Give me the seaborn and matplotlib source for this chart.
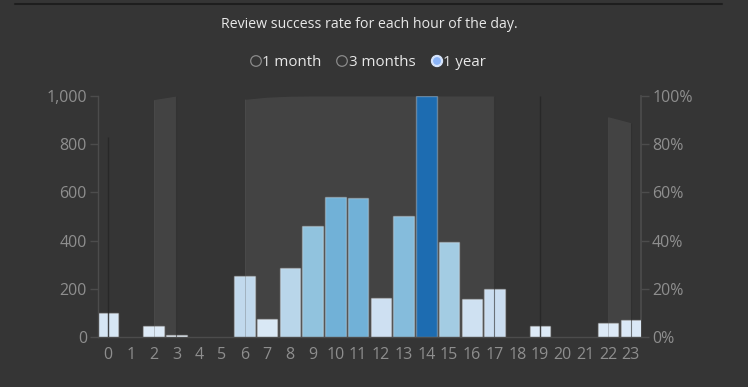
import numpy as np
import pandas as pd
import matplotlib
matplotlib.use("Agg")
import matplotlib.pyplot as plt
from matplotlib.colors import Normalize
from matplotlib.patches import Circle
import seaborn as sns

# ---- data ----
hours = list(range(24))
review_counts = [100, 0, 47, 8, 0, 0, 254, 76, 288, 461, 580, 577,
                 161, 502, 1000, 393, 158, 198, 0, 44, 0, 0, 58, 69]
# success rate per hour (None = no reviews)
success_rate = [0.83, None, 0.985, 1.0, None, None, 0.986, 0.995, 0.999, 1.0, 1.0, 1.0,
                1.0, 1.0, 1.0, 1.0, 1.0, 1.0, None, 1.0, None, None, 0.914, 0.889]
hour_labels = [str(h) for h in hours]
count_ticks = [0, 200, 400, 600, 800, 1000]
rate_ticks = [0, 0.2, 0.4, 0.6, 0.8, 1.0]
title = "Review success rate for each hour of the day."
ranges = ["1 month", "3 months", "1 year"]

BG = "#353535"
AXC = "#4c4c4c"
TXT = "#8e8e8e"

sns.set_theme(style="dark")
plt.rcParams["font.family"] = ["Open Sans", "DejaVu Sans"]

fig = plt.figure(figsize=(7.48, 3.87), dpi=100, facecolor=BG)
W, H = 748, 387
ax = fig.add_axes([98 / W, 50 / H, 543 / W, 241 / H])

norm = Normalize(vmin=-150, vmax=1350)
cmap = plt.get_cmap("Blues")
palette = {str(h): cmap(norm(v)) for h, v in zip(hours, review_counts)}

df = pd.DataFrame({"hour": hour_labels, "count": review_counts})
sns.barplot(data=df, x="hour", y="count", hue="hour", palette=palette,
            order=hour_labels, legend=False, width=0.9, ax=ax,
            edgecolor=(1, 1, 1, 0.28), linewidth=1.0, saturation=1)
# hours without reviews have no visible bar
for p in ax.patches:
    if p.get_height() == 0:
        p.set_visible(False)

ax.set_xlim(-0.45, 23.45)
ax.set_ylim(0, 1000)
ax.set_xlabel("")
ax.set_ylabel("")
ax.set_yticks(count_ticks)
ax.set_yticklabels([f"{t:,}" for t in count_ticks])
ax.set_xticks(hours)
ax.set_xticklabels(hour_labels)
ax.grid(False)
for s in ["top", "right"]:
    ax.spines[s].set_visible(False)
for s in ["left", "bottom"]:
    ax.spines[s].set_color(AXC)
    ax.spines[s].set_linewidth(1)
ax.tick_params(axis="both", colors=AXC, labelcolor=TXT, labelsize=11.5,
               length=6, width=1, direction="out", pad=2)
ax.tick_params(axis="x", pad=1)

# ---- success rate area (right axis), drawn behind the bars ----
ax2 = ax.twinx()
ax2.set_ylim(0, 1)
ax2.set_xlim(-0.45, 23.45)
segments = []
cur = []
for h, r in zip(hours, success_rate):
    if r is None:
        if cur:
            segments.append(cur)
        cur = []
    else:
        cur.append((h, r))
if cur:
    segments.append(cur)
for seg in segments:
    xs = [p[0] for p in seg]
    ys = [p[1] for p in seg]
    if len(seg) == 1:
        ax.vlines(xs[0], 0, ys[0], color="#262626", lw=1.0, alpha=0.85,
                  zorder=5, transform=ax2.transData)
    else:
        ax2.fill_between(xs, 0, ys, color="grey", alpha=0.2, lw=0, zorder=2)
        ax.vlines(xs[-1], 0, ys[-1], color="#2a2a2a", lw=0.8, alpha=0.6,
                  zorder=5, transform=ax2.transData)
        ax.vlines(xs[0], 0, ys[0], color="#5a5a5a", lw=0.6, alpha=0.35,
                  zorder=5, transform=ax2.transData)
ax2.set_yticks(rate_ticks)
ax2.set_yticklabels([f"{int(round(t * 100))}%" for t in rate_ticks])
ax2.grid(False)
for s in ["top", "left", "bottom"]:
    ax2.spines[s].set_visible(False)
ax2.spines["right"].set_color(AXC)
ax2.tick_params(axis="y", colors=AXC, labelcolor=TXT, labelsize=11.5,
                length=6, width=1, direction="out", pad=2)

ax.set_zorder(ax2.get_zorder() + 1)
ax.patch.set_visible(False)
ax2.patch.set_visible(False)

# ---- header decoration (pixel overlay) ----
ov = fig.add_axes([0, 0, 1, 1], zorder=-1)
ov.set_xlim(0, W)
ov.set_ylim(H, 0)
ov.axis("off")
ov.patch.set_alpha(0)
ov.plot([15, 722], [4, 4], color="#1e1e1e", lw=1.5)
ov.text(W / 2 - 5, 24, title, color="#e8e8e8", fontsize=10.2,
        ha="center", va="center", family=["Open Sans", "DejaVu Sans"])

circ_x = [256, 342, 437]
text_x = [262, 349, 443]
for i, (cx, tx, lab) in enumerate(zip(circ_x, text_x, ranges)):
    if i == 2:
        ov.add_patch(Circle((cx, 61), 5.6, facecolor="#d6e4fb", edgecolor="#d6e4fb", lw=0.8))
        ov.add_patch(Circle((cx, 61), 3.9, facecolor="#8ab4f8", edgecolor="none"))
    else:
        ov.add_patch(Circle((cx, 61), 5.3, facecolor="none", edgecolor="#8a8a8a", lw=0.9))
    ov.text(tx, 63, lab, color="#e8e8e8", fontsize=10.8, ha="left", va="center")

fig.savefig("out.png", dpi=100, facecolor=BG)
